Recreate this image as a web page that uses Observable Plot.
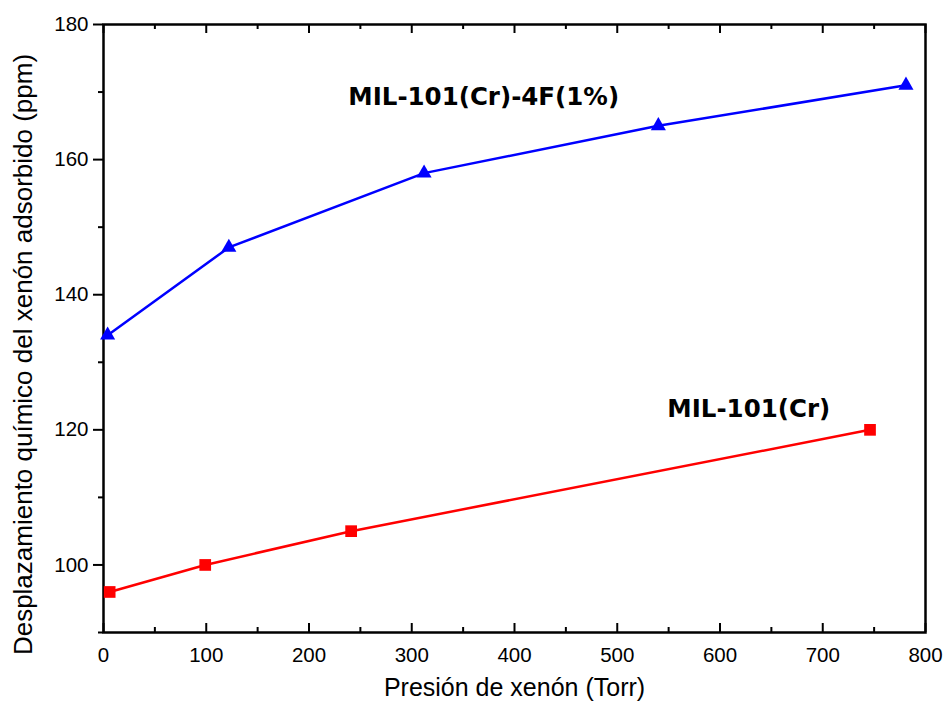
<!DOCTYPE html>
<html>
<head>
<meta charset="utf-8">
<script src="https://cdn.jsdelivr.net/npm/d3@7"></script>
<script src="https://cdn.jsdelivr.net/npm/@observablehq/plot@0.6"></script>
<style>
  body { margin: 0; background: #fff; }
  #chart svg { display: block; }
</style>
</head>
<body>
<div id="chart"></div>
<script>
// Data
const pressureMIL4F = [4, 122, 312, 540, 781];
const shiftMIL4F = [134, 147, 158, 165, 171];
const pressureMIL = [6, 99, 241, 746];
const shiftMIL = [96, 100, 105, 120];

const seriesNames = ["MIL-101(Cr)-4F(1%)", "MIL-101(Cr)"];
const labelX = [370, 628];
const labelY = [169.2, 123];

const xMajorTicks = [0, 100, 200, 300, 400, 500, 600, 700, 800];
const xMinorTicks = [50, 150, 250, 350, 450, 550, 650, 750];
const yMajorTicks = [100, 120, 140, 160, 180];
const yMinorTicks = [90, 110, 130, 150, 170];

const xTitle = "Presión de xenón (Torr)";
const yTitle = "Desplazamiento químico del xenón adsorbido (ppm)";

const blue = pressureMIL4F.map((x, i) => ({x, y: shiftMIL4F[i]}));
const red = pressureMIL.map((x, i) => ({x, y: shiftMIL[i]}));
const labels = seriesNames.map((t, i) => ({t, x: labelX[i], y: labelY[i]}));

const W = 945, H = 704;
const mT = 24, mB = 72, mL = 103, mR = 20;
const innerH = H - mT - mB;
const sans = "Liberation Sans, Arial, sans-serif";

const chart = Plot.plot({
  width: W,
  height: H,
  marginTop: mT,
  marginBottom: mB,
  marginLeft: mL,
  marginRight: mR,
  style: {fontFamily: sans, background: "#fff", color: "#000"},
  x: {domain: [0, 800]},
  y: {domain: [90, 180]},
  marks: [
    // y axis major ticks (outward) with labels
    Plot.axisY({ticks: yMajorTicks, tickSize: 10, tickPadding: 5, fontSize: 20.5, strokeWidth: 2, label: null}),
    Plot.axisY({ticks: yMinorTicks, tickSize: 5, strokeWidth: 2, text: null, label: null}),
    // x axis labels (no outward ticks)
    Plot.axisX({ticks: xMajorTicks, tickSize: 0, tickPadding: 15, fontSize: 20.5, label: null}),
    // inward ticks on bottom
    Plot.tickX(xMajorTicks, {x: d => d, insetTop: innerH - 9, stroke: "#000", strokeWidth: 2}),
    Plot.tickX(xMinorTicks, {x: d => d, insetTop: innerH - 5, stroke: "#000", strokeWidth: 2}),
    // inward ticks on top
    Plot.tickX(xMajorTicks, {x: d => d, insetBottom: innerH - 9, stroke: "#000", strokeWidth: 2}),
    Plot.tickX(xMinorTicks, {x: d => d, insetBottom: innerH - 5, stroke: "#000", strokeWidth: 2}),
    Plot.frame({stroke: "#000", strokeWidth: 2.5}),
    // axis titles
    Plot.text([xTitle], {frameAnchor: "bottom", text: d => d, dy: 63, textAnchor: "middle", fontSize: 25, fontFamily: sans, fill: "#000"}),
    Plot.text([yTitle], {frameAnchor: "left", text: d => d, dx: -80, dy: 26, rotate: -90, textAnchor: "middle", fontSize: 26, fontFamily: sans, fill: "#000"}),
    Plot.line(blue, {x: "x", y: "y", stroke: "#0000ff", strokeWidth: 2.5}),
    Plot.dot(blue, {x: "x", y: "y", symbol: "triangle", r: 5.6, fill: "#0000ff", stroke: "none"}),
    Plot.line(red, {x: "x", y: "y", stroke: "#ff0000", strokeWidth: 2.5}),
    Plot.dot(red, {x: "x", y: "y", symbol: "square", r: 6.6, fill: "#ff0000", stroke: "none"}),
    Plot.text(labels, {x: "x", y: "y", text: "t", fontFamily: "DejaVu Sans, Verdana, sans-serif", fontWeight: "bold", fontSize: 24.5, fill: "#000"})
  ]
});

document.getElementById("chart").appendChild(chart);
</script>
</body>
</html>
